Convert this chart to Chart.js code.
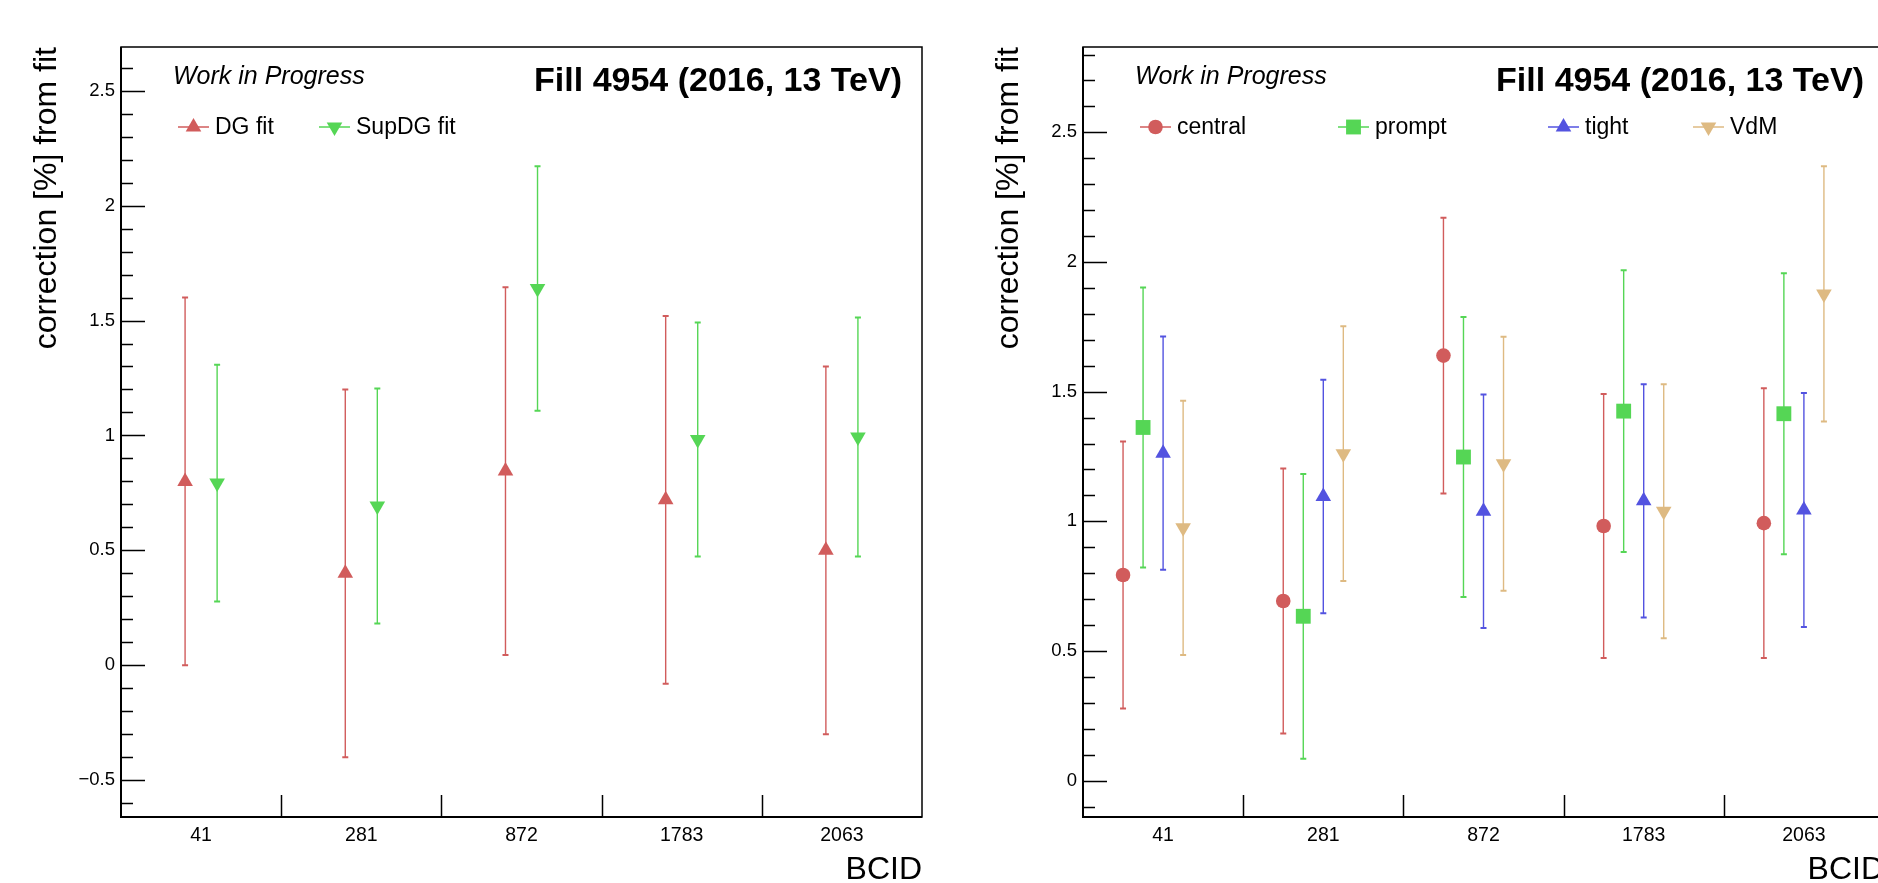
<!DOCTYPE html>
<html>
<head>
<meta charset="utf-8">
<script src="https://cdn.jsdelivr.net/npm/chart.js@4.4.1/dist/chart.umd.min.js"></script>
<style>
  html, body { margin: 0; padding: 0; background: #fff; overflow: hidden; }
  #wrap { position: relative; width: 1878px; height: 883px; overflow: hidden; }
  .pane { position: absolute; top: 0; width: 940px; height: 883px; }
</style>
</head>
<body>
<div id="wrap">
  <div class="pane" style="left:0"><canvas id="leftChart" width="940" height="883"></canvas></div>
  <div class="pane" style="left:962px"><canvas id="rightChart" width="940" height="883"></canvas></div>
</div>
<script>
// BCIDs on the x axis
const categories = ['41', '281', '872', '1783', '2063'];

// left panel: fit corrections
const dgFit = [0.80, 0.40, 0.845, 0.72, 0.50];
const dgFitErr = [0.80, 0.80, 0.80, 0.80, 0.80];
const supDgFit = [0.793, 0.693, 1.639, 0.982, 0.993];
const supDgFitErr = [0.515, 0.511, 0.532, 0.509, 0.52];

// right panel: per-method corrections
const central = [0.793, 0.693, 1.639, 0.982, 0.993];
const centralErr = [0.515, 0.511, 0.532, 0.509, 0.52];
const prompt = [1.362, 0.634, 1.248, 1.425, 1.415];
const promptErr = [0.54, 0.549, 0.54, 0.543, 0.542];
const tight = [1.263, 1.096, 1.039, 1.079, 1.044];
const tightErr = [0.45, 0.45, 0.45, 0.45, 0.451];
const vdm = [0.975, 1.261, 1.222, 1.039, 1.877];
const vdmErr = [0.49, 0.491, 0.49, 0.49, 0.492];

const FONT = "'Liberation Sans', Arial, Helvetica, sans-serif";
const RED = '#d15c5c', GREEN = '#55d655', BLUE = '#5353e0', TAN = '#deba82';

function series(label, values, errs, offset, color, style, rot, radius) {
    return {
        label: label,
        data: values.map((v, i) => ({x: i + offset, y: v})),
        errors: errs,
        backgroundColor: color,
        borderColor: color,
        pointStyle: style,
        pointRotation: rot,
        pointRadius: radius,
        pointHoverRadius: radius,
        pointBorderWidth: 0
    };
}

// ROOT-like decorations: error bars, frame, inward ticks, labels, legend
const rootDeco = {
    id: 'rootDeco',
    beforeDatasetsDraw(chart) {
        const ctx = chart.ctx, y = chart.scales.y;
        ctx.save();
        chart.data.datasets.forEach((ds, i) => {
            const meta = chart.getDatasetMeta(i);
            ctx.strokeStyle = ds.borderColor;
            meta.data.forEach((pt, j) => {
                const v = ds.data[j].y, e = ds.errors[j];
                const top = y.getPixelForValue(v + e), bot = y.getPixelForValue(v - e);
                ctx.lineWidth = 1.4;
                ctx.beginPath();
                ctx.moveTo(pt.x, top);
                ctx.lineTo(pt.x, bot);
                ctx.stroke();
                ctx.lineWidth = 2;
                ctx.beginPath();
                ctx.moveTo(pt.x - 3, top); ctx.lineTo(pt.x + 3, top);
                ctx.moveTo(pt.x - 3, bot); ctx.lineTo(pt.x + 3, bot);
                ctx.stroke();
            });
        });
        ctx.restore();
    },
    afterDraw(chart, args, opts) {
        const ctx = chart.ctx, a = chart.chartArea, x = chart.scales.x, y = chart.scales.y;
        ctx.save();
        ctx.strokeStyle = '#000';
        ctx.lineWidth = 1.5;
        ctx.strokeRect(a.left, a.top, a.right - a.left, a.bottom - a.top);
        ctx.lineWidth = 2;
        ctx.beginPath();
        ctx.moveTo(a.left, a.top); ctx.lineTo(a.left, a.bottom); ctx.lineTo(a.right, a.bottom);
        ctx.stroke();

        // y ticks, major every 0.5 and minor every 0.1
        ctx.lineWidth = 1.5;
        ctx.beginPath();
        for (let k = Math.ceil(y.min * 10); k <= Math.floor(y.max * 10); k++) {
            const py = Math.round(y.getPixelForValue(k / 10)) + 0.5;
            const len = (k % 5 === 0) ? 24 : 12;
            ctx.moveTo(a.left, py);
            ctx.lineTo(a.left + len, py);
        }
        // x ticks at the bin edges
        for (let i = 0; i < categories.length - 1; i++) {
            const px = Math.round(x.getPixelForValue(i + 0.5)) + 0.5;
            ctx.moveTo(px, a.bottom);
            ctx.lineTo(px, a.bottom - 22);
        }
        ctx.stroke();

        ctx.fillStyle = '#000';
        ctx.textBaseline = 'alphabetic';
        ctx.font = 'italic 25px ' + FONT;
        ctx.textAlign = 'left';
        ctx.fillText('Work in Progress', 173, 84);
        ctx.font = 'bold 34px ' + FONT;
        ctx.textAlign = 'right';
        ctx.fillText('Fill 4954 (2016, 13 TeV)', a.right - 20, 91);

        // legend
        ctx.font = '23px ' + FONT;
        ctx.textAlign = 'left';
        opts.legendX.forEach((lx, i) => {
            const ds = chart.data.datasets[i];
            const ly = 127;
            ctx.strokeStyle = ds.borderColor;
            ctx.lineWidth = 1.5;
            ctx.beginPath();
            ctx.moveTo(lx, ly);
            ctx.lineTo(lx + 31, ly);
            ctx.stroke();
            ctx.fillStyle = ds.backgroundColor;
            Chart.helpers.drawPoint(ctx, {
                pointStyle: ds.pointStyle, rotation: ds.pointRotation,
                radius: ds.pointRadius, borderWidth: 0
            }, lx + 15.5, ly);
            ctx.fillStyle = '#000';
            ctx.fillText(ds.label, lx + 37, 134);
        });
        ctx.restore();
    }
};

function makeOptions(yMin, yMax, legendX) {
    return {
        responsive: false,
        animation: false,
        events: [],
        layout: {padding: {top: 47, right: 18, left: 0, bottom: 0}},
        plugins: {
            legend: {display: false},
            tooltip: {enabled: false},
            rootDeco: {legendX: legendX}
        },
        scales: {
            x: {
                type: 'linear',
                min: -0.5,
                max: 4.5,
                grid: {display: false, drawTicks: false},
                border: {display: false},
                afterBuildTicks: s => { s.ticks = categories.map((c, i) => ({value: i})); },
                ticks: {
                    autoSkip: false, maxRotation: 0, padding: 7, color: '#000',
                    font: {family: FONT, size: 19.5},
                    callback: v => categories[Math.round(v)]
                },
                title: {
                    display: true, text: 'BCID', align: 'end', color: '#000', padding: 0,
                    font: {family: FONT, size: 32, lineHeight: 0.8}
                },
                afterFit: s => { s.height = 66; }
            },
            y: {
                type: 'linear',
                min: yMin,
                max: yMax,
                grid: {display: false, drawTicks: false},
                border: {display: false},
                ticks: {
                    stepSize: 0.5, includeBounds: false, padding: 6, color: '#000',
                    font: {family: FONT, size: 18.5},
                    callback: v => {
                        const r = Math.round(v * 10) / 10;
                        return r < 0 ? '\u2212' + Math.abs(r) : String(r);
                    }
                },
                title: {
                    display: true, text: 'correction [%] from fit', align: 'end', color: '#000',
                    padding: {top: 28, bottom: 0},
                    font: {family: FONT, size: 32, lineHeight: 1.2}
                },
                afterFit: s => { s.width = 121; }
            }
        }
    };
}

new Chart(document.getElementById('leftChart').getContext('2d'), {
    type: 'scatter',
    data: {
        datasets: [
            series('DG fit', dgFit, dgFitErr, -0.1, RED, 'triangle', 0, 9),
            series('SupDG fit', supDgFit, supDgFitErr, 0.1, GREEN, 'triangle', 180, 9)
        ]
    },
    options: makeOptions(-0.66, 2.69, [178, 319]),
    plugins: [rootDeco]
});

new Chart(document.getElementById('rightChart').getContext('2d'), {
    type: 'scatter',
    data: {
        datasets: [
            series('central', central, centralErr, -0.25, RED, 'circle', 0, 7.3),
            series('prompt', prompt, promptErr, -0.125, GREEN, 'rect', 0, 10.5),
            series('tight', tight, tightErr, 0, BLUE, 'triangle', 0, 9),
            series('VdM', vdm, vdmErr, 0.125, TAN, 'triangle', 180, 9)
        ]
    },
    options: makeOptions(-0.14, 2.829, [178, 376, 586, 731]),
    plugins: [rootDeco]
});
</script>
</body>
</html>
